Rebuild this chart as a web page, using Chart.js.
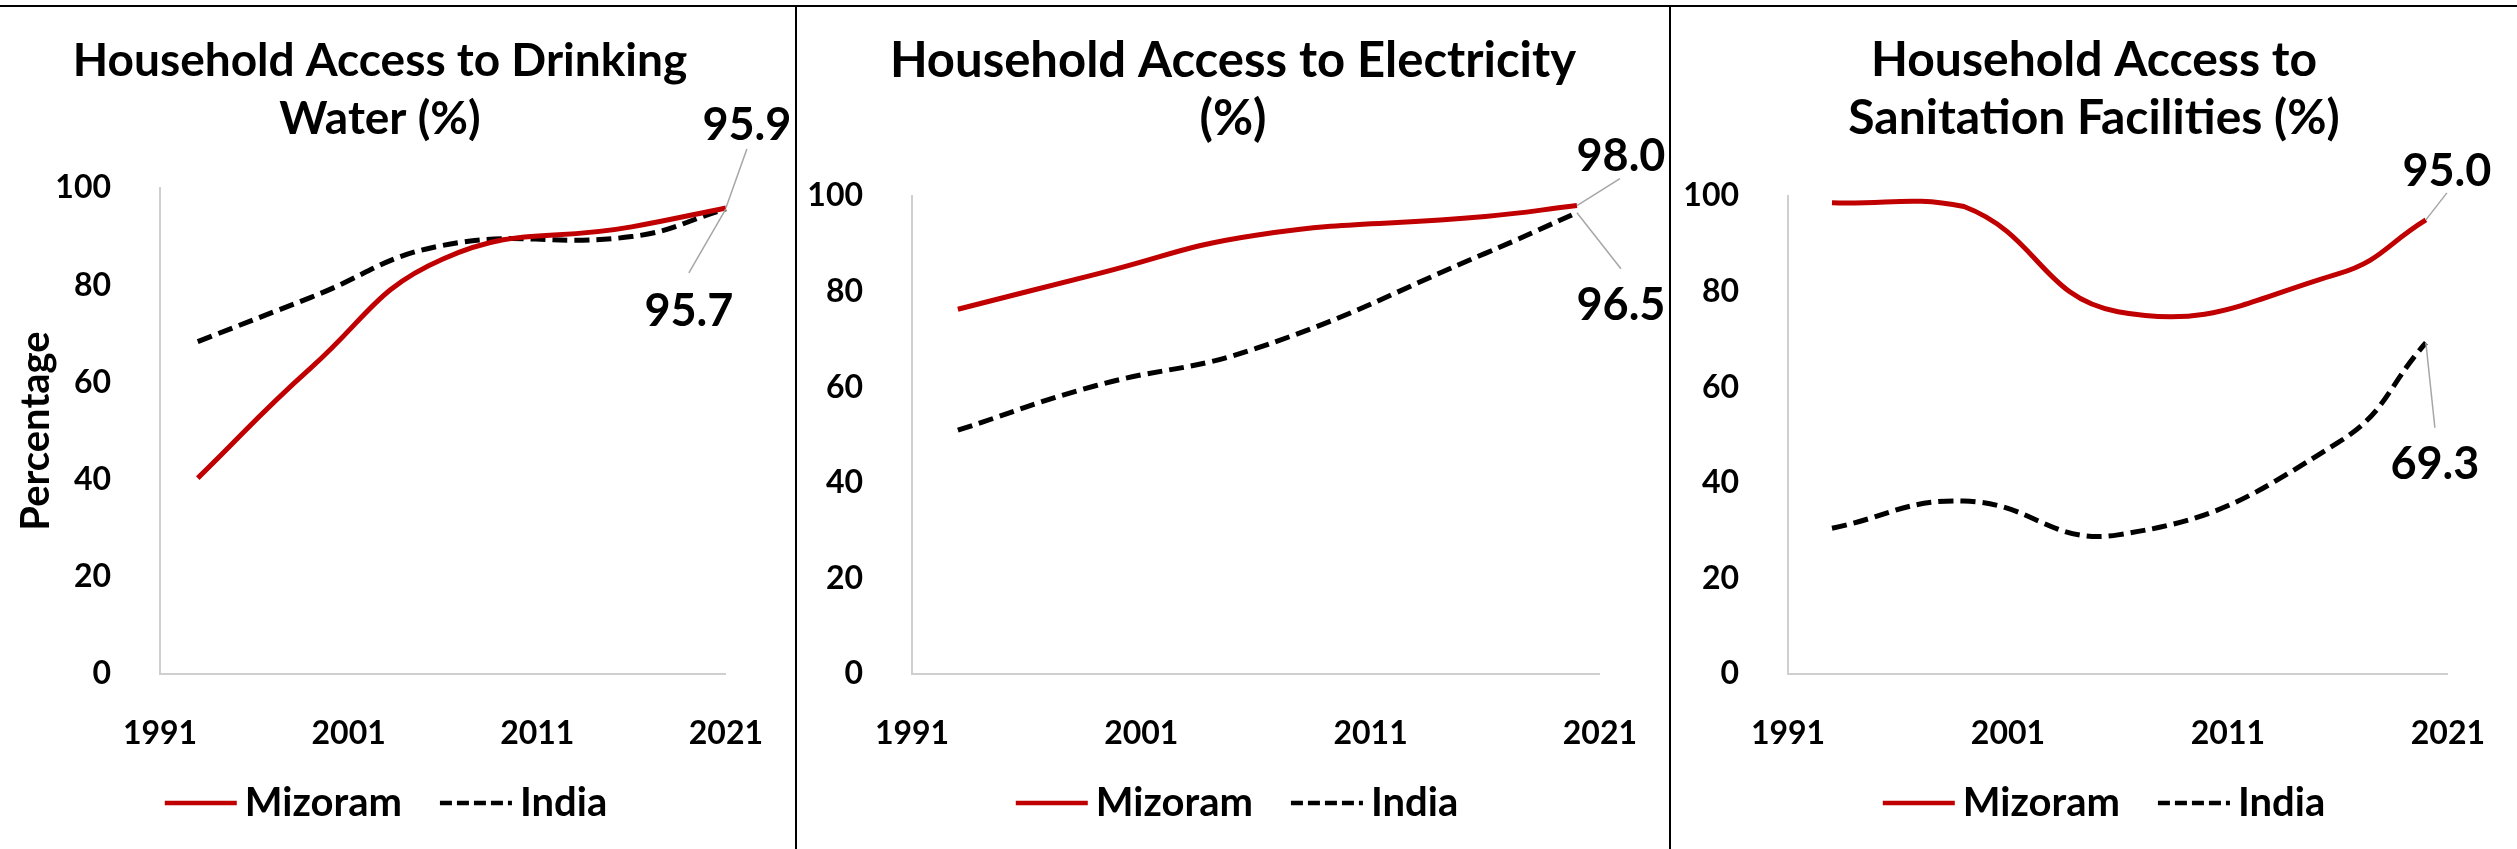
<!DOCTYPE html>
<html>
<head>
<meta charset="utf-8">
<script src="https://cdn.jsdelivr.net/npm/chart.js@4.4.0/dist/chart.umd.min.js"></script>
<style>
  html, body { margin: 0; padding: 0; background: #fff; }
  body { position: relative; width: 2517px; height: 849px; overflow: hidden; }
  .panel { position: absolute; top: 0; height: 849px; }
  .rule-top { position: absolute; left: 0; top: 5px; width: 2517px; height: 2px; background: #000; }
  .rule-v { position: absolute; top: 5px; width: 2px; height: 844px; background: #000; }
</style>
</head>
<body>
<div class="panel" style="left:-35px;width:830px"><canvas id="water"></canvas></div>
<div class="panel" style="left:797px;width:872px"><canvas id="electricity"></canvas></div>
<div class="panel" style="left:1671px;width:846px"><canvas id="sanitation"></canvas></div>
<div class="rule-top"></div>
<div class="rule-v" style="left:795px"></div>
<div class="rule-v" style="left:1669px"></div>

<script>
// survey rounds (NFHS) on a continuous year axis
const yearsWater = [1993, 1999, 2006, 2016, 2021];
const yearsOther = [1993, 1999, 2006, 2016, 2020];
const xTicks = [1991, 2001, 2011, 2021];
const seriesNames = ["Mizoram", "India"];

const waterMizoram = [40.3, 63.0, 85.4, 92.0, 95.9];
const waterIndia = [68.4, 77.5, 88.2, 90.0, 95.7];

const elecMizoram = [76.3, 83.6, 91.8, 95.7, 98.0];
const elecIndia = [51.0, 60.3, 68.1, 88.0, 96.5];

const sanMizoram = [98.6, 97.8, 75.8, 83.7, 95.0];
const sanIndia = [30.5, 36.2, 29.1, 48.4, 69.3];

const titleWater = ["Household Access to Drinking", "Water (%)"];
const titleElec = ["Household Access to Electricity", "(%)"];
const titleSan = ["Household Access to", "Sanitation Facilities (%)"];

Chart.defaults.font.family = "Lato";
Chart.defaults.color = "#000";

// value label at the last point of a series, with a thin grey leader line
const endLabels = {
  id: "endLabels",
  afterDatasetsDraw(chart, args, opts) {
    const ctx = chart.ctx;
    (opts.items || []).forEach((item) => {
      const meta = chart.getDatasetMeta(item.dataset);
      const pt = meta.data[meta.data.length - 1];
      const values = chart.data.datasets[item.dataset].data;
      const value = values[values.length - 1].y;
      ctx.save();
      ctx.strokeStyle = "#a6a6a6";
      ctx.lineWidth = 1.5;
      ctx.beginPath();
      ctx.moveTo(pt.x, pt.y);
      ctx.lineTo(pt.x + item.lx, pt.y + item.ly);
      ctx.stroke();
      ctx.fillStyle = "#000";
      ctx.font = "bold 45px Lato";
      ctx.textAlign = "center";
      ctx.textBaseline = "middle";
      ctx.fillText(value.toFixed(1), pt.x + item.dx, pt.y + item.dy);
      ctx.restore();
    });
  },
};

// legend drawn as line samples (solid / dashed) followed by the series name
const lineLegend = {
  id: "lineLegend",
  afterDraw(chart, args, opts) {
    const ctx = chart.ctx;
    const sample = 72;
    ctx.save();
    ctx.font = "bold 40px Lato";
    const items = chart.data.datasets.map((ds) => ({
      ds: ds,
      w: sample + 8 + ctx.measureText(ds.label).width,
    }));
    const total = items.reduce((s, it) => s + it.w, 0) + 38 * (items.length - 1);
    let x = chart.width / 2 - total / 2 + (opts.shift || 0);
    const y = chart.height - 46;
    items.forEach((it) => {
      ctx.strokeStyle = it.ds.borderColor;
      ctx.lineWidth = 4.5;
      ctx.setLineDash(it.ds.borderDash ? [12, 5] : []);
      ctx.beginPath();
      ctx.moveTo(x, y);
      ctx.lineTo(x + sample, y);
      ctx.stroke();
      ctx.setLineDash([]);
      ctx.fillStyle = "#000";
      ctx.textAlign = "left";
      ctx.textBaseline = "middle";
      ctx.fillText(it.ds.label, x + sample + 8, y);
      x += it.w + 38;
    });
    ctx.restore();
  },
};

const toPoints = (years, values) => years.map((x, i) => ({ x: x, y: values[i] }));

const makeChart = (id, title, years, mizoram, india, cfg) => {
  new Chart(document.getElementById(id), {
    type: "line",
    data: {
      datasets: [
        {
          label: seriesNames[0],
          data: toPoints(years, mizoram),
          borderColor: "#c00000",
          borderWidth: 5,
          pointRadius: 0,
          tension: 0.45,
          clip: false,
        },
        {
          label: seriesNames[1],
          data: toPoints(years, india),
          borderColor: "#000",
          borderWidth: 5,
          borderDash: [15, 7],
          pointRadius: 0,
          tension: 0.45,
          clip: false,
        },
      ],
    },
    options: {
      responsive: true,
      maintainAspectRatio: false,
      animation: false,
      layout: { padding: { top: 0, bottom: 86, left: 0, right: 0 } },
      plugins: {
        title: {
          display: true,
          text: title,
          color: "#000",
          font: { size: cfg.titleSize, weight: "bold", lineHeight: 58 / cfg.titleSize },
          padding: { top: 32, bottom: cfg.titleBottom },
        },
        legend: { display: false },
        tooltip: { enabled: false },
        endLabels: { items: cfg.labels },
        lineLegend: { shift: cfg.legendShift },
      },
      scales: {
        x: {
          type: "linear",
          min: 1991,
          max: 2021,
          afterBuildTicks: (scale) => {
            scale.ticks = xTicks.map((v) => ({ value: v }));
          },
          afterFit: (scale) => {
            scale.height = 89;
          },
          grid: { display: false },
          border: { display: true, color: "#cfcfcf", width: 2 },
          ticks: {
            padding: 32,
            maxRotation: 0,
            autoSkip: false,
            font: { size: 32, weight: "bold" },
            callback: (v) => String(v),
          },
        },
        y: {
          min: 0,
          max: 100,
          afterFit: (scale) => {
            scale.width = cfg.yWidth;
          },
          grid: { display: false },
          border: { display: true, color: "#cfcfcf", width: 2 },
          ticks: { stepSize: 20, padding: 41, font: { size: 32, weight: "bold" } },
          title: {
            display: cfg.yTitle,
            text: "Percentage",
            color: "#000",
            font: { size: 40, weight: "bold" },
            padding: { top: 47, bottom: 0 },
          },
        },
        // empty right-hand scale that only keeps room for the end labels
        spacer: {
          type: "linear",
          position: "right",
          grid: { display: false },
          border: { display: false },
          ticks: { display: false },
          afterFit: (scale) => {
            scale.width = cfg.padRight;
          },
        },
      },
    },
    plugins: [endLabels, lineLegend],
  });
};

const draw = () => {
  makeChart("water", titleWater, yearsWater, waterMizoram, waterIndia, {
    padRight: 65,
    titleSize: 46,
    titleBottom: 40,
    yWidth: 195,
    yTitle: true,
    legendShift: 6,
    labels: [
      { dataset: 0, dx: 21, dy: -82, lx: 21, ly: -59 },
      { dataset: 1, dx: -37, dy: 103, lx: -37, ly: 64 },
    ],
  });
  makeChart("electricity", titleElec, yearsOther, elecMizoram, elecIndia, {
    padRight: 67,
    titleSize: 49,
    titleBottom: 48,
    yWidth: 115,
    yTitle: false,
    legendShift: 4,
    labels: [
      { dataset: 0, dx: 44, dy: -49, lx: 43, ly: -27 },
      { dataset: 1, dx: 44, dy: 93, lx: 44, ly: 56 },
    ],
  });
  makeChart("sanitation", titleSan, yearsOther, sanMizoram, sanIndia, {
    padRight: 63,
    titleSize: 48,
    titleBottom: 48,
    yWidth: 117,
    yTitle: false,
    legendShift: 10,
    labels: [
      { dataset: 0, dx: 21, dy: -48, lx: 21, ly: -27 },
      { dataset: 1, dx: 9, dy: 122, lx: 9, ly: 85 },
    ],
  });
};

document.fonts.load("bold 40px Lato").then(draw, draw);
</script>
</body>
</html>
